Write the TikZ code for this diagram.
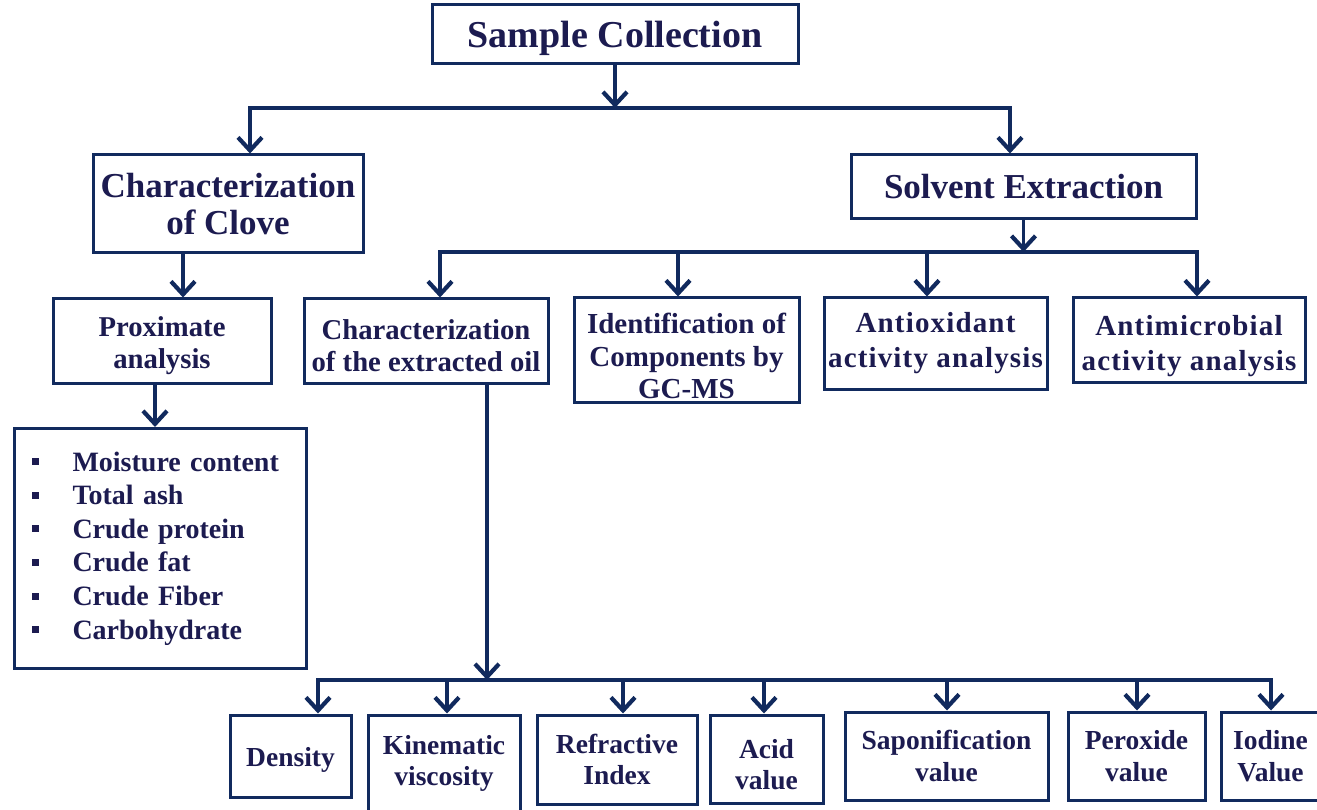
\documentclass[tikz,border=0pt]{standalone}
\usepackage{fontspec}
\setmainfont{Liberation Serif}
\usetikzlibrary{arrows.meta}
\definecolor{navy}{HTML}{112A5E}
\definecolor{ink}{HTML}{1C1B50}
\newcommand\lbul{\makebox[41pt][l]{\raisebox{6pt}{\rule{7pt}{7pt}}}}
\begin{document}
\begin{tikzpicture}[x=1pt,y=-1pt,
  box/.style={draw=navy, line width=3pt, fill=white, text=ink, align=center, inner sep=0pt},
  conn/.style={draw=navy, line width=3.2pt, line join=miter},
  arr/.style={conn, -{Straight Barb[length=13pt,width=24pt,line width=4.2pt]}}]
\useasboundingbox (0,0) rectangle (1317,810);
\fill[white] (0,0) rectangle (1317,810);

% top level
\node[box, minimum width=366pt, minimum height=59pt, font=\bfseries\fontsize{38}{42}\selectfont] (sc) at (615,34.5) {\rule{0pt}{34pt}Sample Collection};
\node[box, minimum width=270pt, minimum height=98pt, font=\bfseries\fontsize{35}{37}\selectfont] (clove) at (228,204) {Characterization\\of Clove};
\node[box, minimum width=345pt, minimum height=64pt, font=\bfseries\fontsize{35}{38}\selectfont] (solv) at (1023.5,187) {Solvent Extraction};

% middle row
\node[box, minimum width=218pt, minimum height=84pt, font=\bfseries\fontsize{28.7}{32}\selectfont] (prox) at (162,341) {\rule{0pt}{30pt}Proximate\\analysis};
\node[box, minimum width=244pt, minimum height=84pt, font=\bfseries\fontsize{28.7}{32}\selectfont] (oil) at (426,341) {\rule{0pt}{30pt}Characterization\\of the extracted oil};
\node[box, minimum width=225pt, minimum height=104pt, font=\bfseries\fontsize{29}{32.5}\selectfont] (gcms) at (686.5,350) {\rule{0pt}{33pt}Identification of\\Components by\\GC-MS};
\node[box, minimum width=223pt, minimum height=91pt, font=\bfseries\fontsize{29}{35}\selectfont\addfontfeatures{LetterSpace=4}] (antiox) at (935.5,343.5) {Antioxidant\\activity analysis};
\node[box, minimum width=232pt, minimum height=84pt, font=\bfseries\fontsize{29}{35}\selectfont\addfontfeatures{LetterSpace=4}] (antimic) at (1189,340) {\rule{0pt}{32pt}Antimicrobial\\activity analysis};

% list
\node[box, text width=258pt, inner xsep=17pt, minimum height=240pt, align=left, anchor=north west, font=\bfseries\fontsize{28}{33.6}\selectfont] (list) at (13,427)
 {\lbul Moisture content\\ \lbul Total ash\\ \lbul Crude protein\\ \lbul Crude fat\\ \lbul Crude Fiber\\ \lbul Carbohydrate};

% bottom row
\tikzset{bot/.style={box, font=\bfseries\fontsize{27.5}{31.5}\selectfont}}
\node[bot, minimum width=121pt, minimum height=82pt] (dens) at (290.5,756) {\rule{0pt}{27pt}Density};
\node[bot, minimum width=152pt, minimum height=97pt] (kin) at (444,763.5) {Kinematic\\viscosity};
\node[bot, minimum width=160pt, minimum height=89pt] (refr) at (617,759.5) {Refractive\\Index};
\node[bot, minimum width=113pt, minimum height=88pt] (acid) at (766.5,759) {\rule{0pt}{30pt}Acid\\value};
\node[bot, minimum width=203pt, minimum height=88pt] (sap) at (946.5,756) {Saponification\\value};
\node[bot, minimum width=137pt, minimum height=88pt] (per) at (1136.5,756) {Peroxide\\value};
\node[bot, minimum width=99pt, minimum height=88pt] (iod) at (1270.5,756) {Iodine\\Value};

% bus 1
\coordinate (b1) at (615,108);
\coordinate (b1L) at (250,108);
\coordinate (b1R) at (1010,108);
\draw[arr] (sc.south) -- (sc.south |- b1);
\draw[arr] (b1R) -- (b1L) -- (b1L |- clove.north);
\draw[arr] (b1L) -- (b1R) -- (b1R |- solv.north);

% bus 2
\coordinate (b2a) at (440,252);
\coordinate (b2b) at (678,252);
\coordinate (b2c) at (927,252);
\coordinate (b2d) at (1197,252);
\draw[arr] (solv.south) -- (solv.south |- b2a);
\draw[arr] (b2d) -- (b2a) -- (b2a |- oil.north);
\draw[arr] (b2a) -- (b2d) -- (b2d |- antimic.north);
\draw[arr] (b2b) -- (b2b |- gcms.north);
\draw[arr] (b2c) -- (b2c |- antiox.north);

% clove -> proximate -> list
\draw[arr] ([xshift=-45pt]clove.south) -- ([xshift=-45pt]clove.south |- prox.north);
\draw[arr] ([xshift=-7pt]prox.south) -- ([xshift=-7pt]prox.south |- list.north);

% bus 3
\coordinate (b31) at (318,680);
\coordinate (b32) at (447,680);
\coordinate (b33) at (623,680);
\coordinate (b34) at (764,680);
\coordinate (b35) at (947,680);
\coordinate (b36) at (1137,680);
\coordinate (b37) at (1271,680);
\draw[arr] ([xshift=61pt]oil.south) -- ([xshift=61pt]oil.south |- b31);
\draw[arr] (b37) -- (b31) -- (b31 |- dens.north);
\draw[arr] (b31) -- (b37) -- (b37 |- iod.north);
\draw[arr] (b32) -- (b32 |- kin.north);
\draw[arr] (b33) -- (b33 |- refr.north);
\draw[arr] (b34) -- (b34 |- acid.north);
\draw[arr] (b35) -- (b35 |- sap.north);
\draw[arr] (b36) -- (b36 |- per.north);
\end{tikzpicture}
\end{document}
